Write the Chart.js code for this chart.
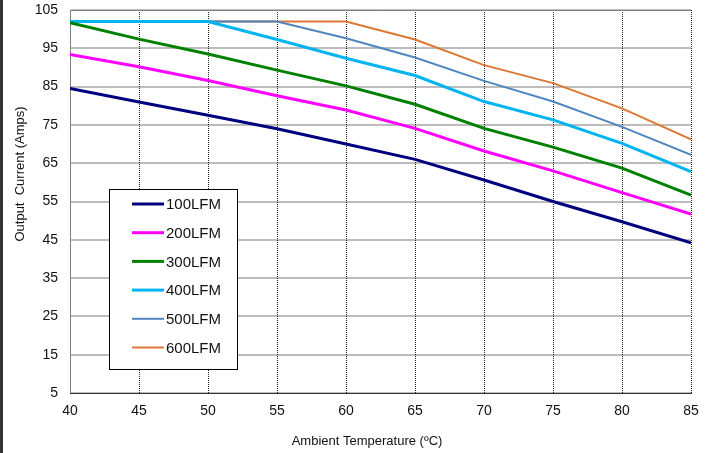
<!DOCTYPE html>
<html>
<head>
<meta charset="utf-8">
<script src="https://cdn.jsdelivr.net/npm/chart.js@4/dist/chart.umd.min.js"></script>
<style>
  html, body { margin: 0; padding: 0; background: #fff; }
  #wrap { position: relative; width: 713px; height: 453px; }
  #wrap:before { content: ''; position: absolute; left: 0; top: 0; width: 3px; height: 453px; background: #333; }
</style>
</head>
<body>
<div id="wrap"><canvas id="chart" width="713" height="453"></canvas></div>
<script>
// Ambient temperature (°C)
const temps = [40, 45, 50, 55, 60, 65, 70, 75, 80, 85];
const yTicks = [5, 15, 25, 35, 45, 55, 65, 75, 85, 95, 105];

// Output current (A) per airflow
const lfm100 = [84.5, 81.0, 77.5, 74.0, 70.0, 66.0, 60.6, 55.0, 49.7, 44.2];
const lfm200 = [93.4, 90.2, 86.6, 82.6, 78.9, 74.1, 68.2, 63.0, 57.3, 51.7];
const lfm300 = [101.7, 97.4, 93.5, 89.3, 85.2, 80.4, 74.1, 69.2, 63.7, 56.7];
const lfm400 = [102, 102, 102, 97.3, 92.4, 87.9, 81.1, 76.3, 70.2, 62.8];
const lfm500 = [102, 102, 102, 102, 97.6, 92.6, 86.5, 81.1, 74.5, 67.2];
const lfm600 = [102, 102, 102, 102, 102, 97.3, 90.6, 85.9, 79.3, 71.2];

const seriesNames = ['100LFM', '200LFM', '300LFM', '400LFM', '500LFM', '600LFM'];
const seriesData = [lfm100, lfm200, lfm300, lfm400, lfm500, lfm600];
const seriesColors = ['#00007f', '#ff00ff', '#008000', '#00b4f0', '#4f86c0', '#dd7733'];
const seriesWidths = [3, 3, 3, 3, 2, 2];

const xTitle = 'Ambient Temperature (ºC)';
const yTitle = 'Output  Current (Amps)';

const FONT = '"Liberation Sans", Arial, sans-serif';

// legend box and axis titles drawn by hand
const boxLegend = {
  id: 'boxLegend',
  afterDatasetsDraw(chart) {
    const ctx = chart.ctx;
    const x0 = 109, y0 = 189, w = 128, h = 180;
    ctx.save();
    ctx.fillStyle = '#fff';
    ctx.fillRect(x0, y0, w, h);
    ctx.strokeStyle = '#000';
    ctx.lineWidth = 1;
    ctx.strokeRect(x0 + 0.5, y0 + 0.5, w, h);
    ctx.font = '15px ' + FONT;
    ctx.textBaseline = 'middle';
    chart.data.datasets.forEach((ds, i) => {
      const y = 204 + i * 28.7;
      ctx.strokeStyle = ds.borderColor;
      ctx.lineWidth = ds.borderWidth;
      ctx.beginPath(); ctx.moveTo(132, y); ctx.lineTo(164, y); ctx.stroke();
      ctx.fillStyle = '#111';
      ctx.fillText(ds.label, 166, y + 1);
    });

    ctx.font = '13px ' + FONT;
    ctx.textAlign = 'center';
    ctx.fillText(xTitle, 367, 441);
    ctx.translate(20, 174);
    ctx.rotate(-Math.PI / 2);
    ctx.fillText(yTitle, 0, 0);
    ctx.restore();
  }
};

new Chart(document.getElementById('chart'), {
  type: 'line',
  data: {
    datasets: seriesData.map((d, i) => ({
      label: seriesNames[i],
      data: d.map((v, j) => ({ x: temps[j], y: v })),
      borderColor: seriesColors[i],
      borderWidth: seriesWidths[i],
      pointRadius: 0,
      tension: 0,
      fill: false
    }))
  },
  options: {
    responsive: false,
    animation: false,
    layout: { padding: { top: 10, right: 22, left: 0, bottom: 0 } },
    plugins: { legend: { display: false }, tooltip: { enabled: false } },
    scales: {
      x: {
        type: 'linear', min: 40, max: 85,
        afterBuildTicks: s => { s.ticks = temps.map(v => ({ value: v })); },
        afterFit: s => { s.height = 60; s.paddingLeft = 0; s.paddingRight = 0; },
        grid: { display: false, drawTicks: false },
        border: { color: '#333', width: 1 },
        ticks: { padding: 10, color: '#111', font: { family: FONT, size: 14 } }
      },
      y: {
        min: 5, max: 105,
        afterBuildTicks: s => { s.ticks = yTicks.map(v => ({ value: v })); },
        afterFit: s => { s.width = 70; s.paddingTop = 0; s.paddingBottom = 0; },
        grid: { color: '#bdbdbd', lineWidth: 2, drawTicks: false },
        border: { color: '#808080', width: 1 },
        ticks: { padding: 12, color: '#111', font: { family: FONT, size: 14 } }
      }
    }
  },
  plugins: [
    boxLegend,
    {
      id: 'dottedVerticals',
      beforeDatasetsDraw(chart) {
        // dotted vertical grid lines and frame on top of the gray horizontals
        const { ctx, chartArea: a, scales: { x } } = chart;
        ctx.save();
        ctx.strokeStyle = '#222';
        ctx.lineWidth = 1;
        ctx.setLineDash([1, 1]);
        temps.slice(1).forEach(t => {
          const px = Math.round(x.getPixelForValue(t)) + 0.5;
          ctx.beginPath(); ctx.moveTo(px, a.top); ctx.lineTo(px, a.bottom); ctx.stroke();
        });
        ctx.setLineDash([]);
        ctx.strokeStyle = '#808080';
        ctx.beginPath(); ctx.moveTo(a.left, a.top + 0.5); ctx.lineTo(a.right, a.top + 0.5); ctx.stroke();
        ctx.strokeStyle = '#333';
        ctx.beginPath(); ctx.moveTo(a.left, a.bottom + 0.5); ctx.lineTo(a.right, a.bottom + 0.5); ctx.stroke();
        ctx.restore();
      }
    }
  ]
});
</script>
</body>
</html>
